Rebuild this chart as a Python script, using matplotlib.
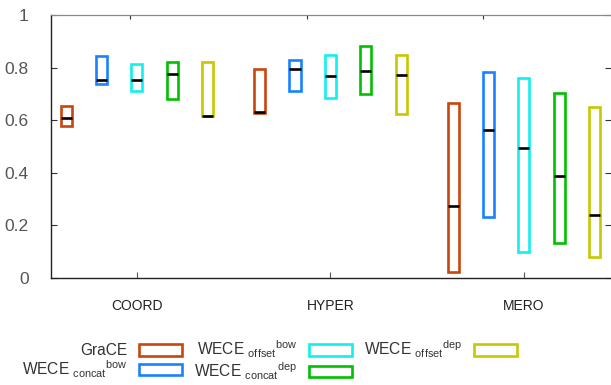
import matplotlib
import matplotlib.pyplot as plt
import numpy as np

matplotlib.use("Agg")

plt.rcParams["font.family"] = ["Liberation Sans", "DejaVu Sans"]
plt.rcParams["mathtext.fontset"] = "custom"
plt.rcParams["mathtext.rm"] = "Liberation Sans"

# data
categories = ["COORD", "HYPER", "MERO"]
series = [
    "GraCE",
    r"WECE $_{\mathrm{concat}}{}^{\mathrm{bow}}$",
    r"WECE $_{\mathrm{offset}}{}^{\mathrm{bow}}$",
    r"WECE $_{\mathrm{concat}}{}^{\mathrm{dep}}$",
    r"WECE $_{\mathrm{offset}}{}^{\mathrm{dep}}$",
]
colors = ["#c8470e", "#1a82ff", "#10f0f0", "#00c000", "#c8c800"]

# per series: values for COORD, HYPER, MERO
low = [
    [0.579, 0.629, 0.022],
    [0.738, 0.711, 0.233],
    [0.711, 0.686, 0.100],
    [0.679, 0.698, 0.132],
    [0.616, 0.622, 0.081],
]
high = [
    [0.654, 0.793, 0.664],
    [0.845, 0.830, 0.782],
    [0.815, 0.849, 0.759],
    [0.820, 0.881, 0.702],
    [0.820, 0.849, 0.651],
]
median = [
    [0.607, 0.632, 0.274],
    [0.753, 0.793, 0.562],
    [0.753, 0.768, 0.494],
    [0.774, 0.788, 0.389],
    [0.616, 0.773, 0.238],
]

fig = plt.figure(figsize=(6.11, 3.85), dpi=100)
ax = fig.add_axes([51 / 611, 1 - 278 / 385, 560 / 611, 263 / 385])

x = np.arange(1, len(categories) + 1)
step = 0.183
width = 0.057
for i, name in enumerate(series):
    xs = x + (i - 2) * step
    lo = np.array(low[i])
    hi = np.array(high[i])
    ax.bar(xs, hi - lo, bottom=lo, width=width, fill=False,
           edgecolor=colors[i], linewidth=1.9, label=name)
    ax.hlines(median[i], xs - width / 2, xs + width / 2, color="black",
              linewidth=1.9, zorder=3)

ax.set_xlim(0.556, 3.45)
ax.set_ylim(0, 1)
ax.set_yticks(np.arange(0, 1.01, 0.2))
ax.set_yticklabels(["0", "0.2", "0.4", "0.6", "0.8", "1"])
ax.set_xticks(x)
ax.set_xticklabels(categories)

ax.tick_params(axis="y", direction="in", length=4, pad=16, labelsize=12.5,
               labelcolor="#555555", right=True, color="#333333")
ax.tick_params(axis="x", direction="in", length=4, pad=15, labelsize=10,
               labelcolor="#222222", color="#555555")
for side in ["left", "bottom"]:
    ax.spines[side].set_color("#222222")
    ax.spines[side].set_linewidth(1.0)
ax.spines["top"].set_color("#888888")
ax.spines["right"].set_visible(False)

top = ax.secondary_xaxis("top")
top.set_xticks([0.964, 1.879, 2.788])
top.set_xticklabels([])
top.tick_params(direction="in", length=3, color="#333333")
top.spines["top"].set_color("#888888")

handles, labels = ax.get_legend_handles_labels()
fig.legend(handles, labels, ncol=3, markerfirst=False, frameon=False,
           loc="upper left", bbox_to_anchor=(14 / 611, 1 - 331 / 385),
           fontsize=11.2, handlelength=2.75, handleheight=0.75,
           handletextpad=0.75, columnspacing=0.8, labelspacing=0.0,
           borderpad=0, labelcolor="#333333")

fig.savefig("out.png", dpi=100)
